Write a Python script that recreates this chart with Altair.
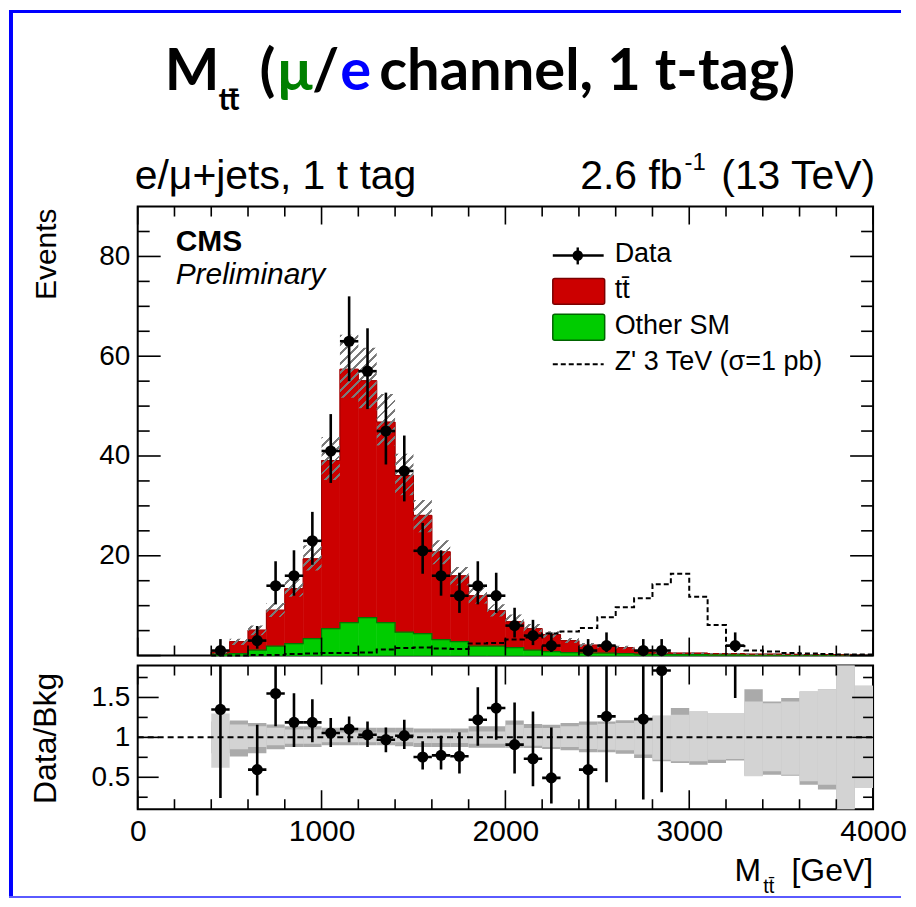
import altair as alt
import pandas as pd
import numpy as np

# ---------------- data ----------------
bin_lo = list(range(400, 4000, 100))          # 36 bins of 100 GeV

other_sm = [0.3, 0.4, 1.1, 1.9, 2.4, 3.4, 5.4, 6.6, 7.6, 6.6, 4.7, 4.4, 3.2, 2.8, 1.9, 1.9,
            1.6, 1.1, 0.8, 0.6, 0.5, 0.5, 0.4, 0.3, 0.25, 0.2, 0.2, 0.15, 0.15, 0.12, 0.12,
            0.1, 0.1, 0.1, 0.08, 0.08]
ttbar = [0.4, 2.4, 4.0, 7.2, 11.0, 16.0, 33.7, 50.8, 47.5, 40.2, 31.4, 23.7, 17.6, 13.2, 10.1,
         7.1, 5.2, 4.3, 3.4, 2.4, 1.6, 1.4, 1.2, 0.7, 0.35, 0.3, 0.3, 0.25, 0.25, 0.18, 0.18,
         0.15, 0.1, 0.1, 0.07, 0.07]
zprime = [0.0, 0.0, 0.1, 0.1, 0.3, 0.4, 0.5, 0.5, 0.6, 1.2, 1.5, 1.6, 1.4, 1.3, 2.4, 2.5,
          3.2, 3.6, 4.4, 4.8, 5.5, 7.7, 9.7, 11.5, 14.3, 16.4, 11.8, 6.1, 1.9, 1.0, 0.8,
          0.5, 0.4, 0.3, 0.2, 0.2]

# ratio-panel uncertainty bands (dark = outer, light = inner)
dark_up = [1.20, 1.21, 1.18, 1.16, 1.14, 1.14, 1.12, 1.12, 1.12, 1.12, 1.12, 1.11, 1.11, 1.11,
           1.14, 1.14, 1.21, 1.167, 1.158, 1.179, 1.20, 1.20, 1.213, 1.221, 1.271, 1.367, 1.325,
           1.304, 1.304, 1.604, 1.45, 1.492, 1.575, 1.604, 2.5, 1.646]
dark_dn = [0.80, 0.76, 0.80, 0.85, 0.88, 0.88, 0.90, 0.90, 0.90, 0.90, 0.89, 0.88, 0.88, 0.88,
           0.87, 0.87, 0.87, 0.867, 0.854, 0.838, 0.813, 0.813, 0.796, 0.742, 0.70, 0.679, 0.658,
           0.679, 0.71, 0.52, 0.533, 0.52, 0.408, 0.346, -0.5, 0.367]
light_up = [1.30, 1.16, 1.14, 1.12, 1.10, 1.10, 1.07, 1.06, 1.06, 1.06, 1.06, 1.06, 1.06, 1.06,
            1.075, 1.075, 1.158, 1.117, 1.117, 1.138, 1.158, 1.171, 1.179, 1.221, 1.271, 1.283,
            1.325, 1.304, 1.304, 1.45, 1.429, 1.45, 1.575, 1.604, 2.5, 1.646]
light_dn = [0.62, 0.85, 0.88, 0.90, 0.92, 0.92, 0.94, 0.94, 0.94, 0.94, 0.94, 0.93, 0.93, 0.93,
            0.921, 0.921, 0.909, 0.896, 0.879, 0.879, 0.854, 0.846, 0.838, 0.784, 0.721, 0.70,
            0.70, 0.721, 0.729, 0.513, 0.575, 0.533, 0.45, 0.408, -0.5, 0.367]

# data points
data_x = [450, 650, 750, 850, 950, 1050, 1150, 1250, 1350, 1450, 1550, 1650, 1750, 1850, 1950,
          2050, 2150, 2250, 2450, 2550, 2750, 2850, 3250]
data_n = [1, 3, 14, 16, 23, 41, 63, 57, 45, 37, 21, 16, 12, 14, 12, 6, 4, 2, 1, 2, 1, 1, 2]
err_lo = [0.83, 1.63, 3.74, 4.0, 4.8, 6.4, 8.0, 7.6, 6.7, 6.1, 4.6, 4.0, 3.45, 3.74, 3.45, 2.38,
          1.91, 1.29, 0.83, 1.29, 0.83, 0.83, 1.29]
err_hi = [2.3, 2.92, 4.9, 5.1, 5.8, 7.4, 9.0, 8.6, 7.7, 7.1, 5.6, 5.1, 4.6, 4.9, 4.6, 3.58, 3.16,
          2.64, 2.3, 2.64, 2.3, 2.3, 2.64]

ratio_val = [1.35, 0.596, 1.55, 1.188, 1.188, 1.054, 1.104, 1.033, 0.971, 1.021, 0.754, 0.775,
             0.763, 1.221, 1.367, 0.909, 0.733, 0.492, 0.596, 1.263, 1.229, 1.838, 6.0]
ratio_lo = [0.242, 0.271, 1.138, 0.879, 0.938, 0.879, 0.938, 0.879, 0.813, 0.854, 0.596, 0.596,
            0.546, 0.896, 0.971, 0.546, 0.388, 0.171, 0.0, 0.438, 0.221, 0.313, 1.492]
ratio_hi = [3.0, 1.158, 3.0, 1.554, 1.479, 1.242, 1.263, 1.2, 1.125, 1.221, 0.95, 1.021, 1.063,
            1.629, 1.95, 1.438, 1.325, 1.125, 3.0, 3.0, 3.0, 3.0, 20.0]

x_major = [0, 1000, 2000, 3000, 4000]
x_minor = [200, 400, 600, 800, 1200, 1400, 1600, 1800, 2200, 2400, 2600, 2800, 3200, 3400,
           3600, 3800]
y_major = [0, 20, 40, 60, 80]
y_minor = [5, 10, 15, 25, 30, 35, 45, 50, 55, 65, 70, 75, 85]
r_major = [0.5, 1.0, 1.5]
r_minor = [0.25, 0.75, 1.25, 1.75]

# ---------------- geometry / style ----------------
W, H, HR = 737, 450, 144
XD, YD, RD = [0, 4000], [0, 90], [0.1, 1.9]
FONT = "Liberation Sans"
RED, GREEN = "#cc0000", "#00cc00"

xsc = alt.Scale(domain=XD, nice=False, zero=False)
ysc = alt.Scale(domain=YD, nice=False, zero=False)
rsc = alt.Scale(domain=RD, nice=False, zero=False)

AX_MAIN_Y = alt.Axis(values=[20, 40, 60, 80], ticks=False, domain=False, grid=False,
                     labelFontSize=28, labelFont=FONT, labelColor="black",
                     labelPadding=8, title=None)
AX_R_X = alt.Axis(values=x_major, format="d", ticks=False, domain=False, grid=False,
                  labelFontSize=30, labelFont=FONT, labelColor="black", labelFlush=False,
                  labelPadding=7, title=None)
AX_R_Y = alt.Axis(values=r_major, format="~g", ticks=False, domain=False, grid=False,
                  labelFontSize=28, labelFont=FONT, labelColor="black", labelFlush=False,
                  labelPadding=8, title=None)

total = [g + t for g, t in zip(other_sm, ttbar)]
hist = pd.DataFrame({
    "lo": bin_lo, "hi": [b + 100 for b in bin_lo], "zero": [0.0] * len(bin_lo),
    "green": other_sm, "total": total,
    "du": dark_up, "dd": dark_dn, "lu": light_up, "ld": light_dn,
})

def step_df(vals):
    xs = [bin_lo[0]] + bin_lo + [XD[1]]
    ys = [0.0] + list(vals) + [vals[-1]]
    return pd.DataFrame({"x": xs, "y": ys, "i": list(range(len(xs)))})

hatch_up = [t * max(a, b) for t, a, b in zip(total, dark_up, light_up)]
hatch_dn = [t * max(0.0, min(a, b)) for t, a, b in zip(total, dark_dn, light_dn)]
hatch = pd.DataFrame({"x": bin_lo + [XD[1]], "u": hatch_up + [hatch_up[-1]],
                      "d": hatch_dn + [hatch_dn[-1]]})

# diagonal hatch as a striped gradient (objectBoundingBox units)
px_x = W / (XD[1] - XD[0])
px_y = H / (YD[1] - YD[0])
bw = (XD[1] - bin_lo[0]) * px_x
bh = (max(hatch_up) - min(hatch_dn)) * px_y
k = (bw + bh) / (bw ** 2 + bh ** 2)
n_per = int(((bw + bh) / np.sqrt(2)) / 6.5)
stops = []
for i in range(n_per):
    a, b, c = i / n_per, (i + 0.32) / n_per, (i + 1) / n_per
    stops += [alt.GradientStop(color="#7a7a7a", offset=a),
              alt.GradientStop(color="#7a7a7a", offset=b),
              alt.GradientStop(color="rgba(255,255,255,0)", offset=b),
              alt.GradientStop(color="rgba(255,255,255,0)", offset=c)]
hatch_fill = alt.LinearGradient(gradient="linear", stops=stops, x1=0, y1=0,
                                x2=k * bw, y2=k * bh)

pts = pd.DataFrame({"x": data_x, "n": data_n,
                    "lo": [n - e for n, e in zip(data_n, err_lo)],
                    "hi": [n + e for n, e in zip(data_n, err_hi)],
                    "xl": [x - 50 for x in data_x], "xh": [x + 50 for x in data_x],
                    "r": ratio_val, "rlo": ratio_lo, "rhi": ratio_hi})

dummy = pd.DataFrame({"a": [0]})

def X(f, ax=None):
    return alt.X(f, type="quantitative", scale=xsc, axis=ax)

def Y(f, s, ax=None):
    return alt.Y(f, type="quantitative", scale=s, axis=ax)

def txt(text, x, y, size, font=FONT, align="left", baseline="alphabetic", **kw):
    return alt.Chart(dummy).mark_text(text=text, fontSize=size, font=font, align=align,
                                      baseline=baseline, **kw).encode(
        x=alt.value(x), y=alt.value(y))

def prect(x1, x2, y1, y2, color, **kw):
    return alt.Chart(dummy).mark_rect(color=color, **kw).encode(
        x=alt.value(x1), x2=alt.value(x2), y=alt.value(y1), y2=alt.value(y2))

def ticks(s, height, ymaj, ymin, xl_maj, xl_min, yl_maj, yl_min, axx, axy):
    out = []
    for vals, ln in ((x_major, xl_maj), (x_minor, xl_min)):
        b = alt.Chart(pd.DataFrame({"v": vals})).mark_rule(color="black", strokeWidth=1.6)
        out.append(b.encode(x=X("v", axx), y=alt.value(height), y2=alt.value(height - ln)))
        out.append(b.encode(x=X("v", axx), y=alt.value(0), y2=alt.value(ln)))
    for vals, ln in ((ymaj, yl_maj), (ymin, yl_min)):
        b = alt.Chart(pd.DataFrame({"v": vals})).mark_rule(color="black", strokeWidth=1.6)
        out.append(b.encode(y=Y("v", s, axy), x=alt.value(0), x2=alt.value(ln)))
        out.append(b.encode(y=Y("v", s, axy), x=alt.value(W), x2=alt.value(W - ln)))
    return out

# ---------------- main panel ----------------
A = AX_MAIN_Y
hb = alt.Chart(hist)
green_r = hb.mark_rect(color=GREEN, stroke=GREEN, strokeWidth=0.6).encode(
    x=X("lo"), x2="hi", y=Y("green", ysc, A), y2="zero")
red_r = hb.mark_rect(color=RED, stroke=RED, strokeWidth=0.6).encode(
    x=X("lo"), x2="hi", y=Y("total", ysc, A), y2="green")

def outline(vals, color, **kw):
    return alt.Chart(step_df(vals)).mark_line(interpolate="step-after", color=color, **kw).encode(
        x=X("x"), y=Y("y", ysc, A), order="i:Q")

red_o = outline(total, "#990000", strokeWidth=1)
green_o = outline(other_sm, "#007a00", strokeWidth=1.2)
hatch_a = alt.Chart(hatch).mark_area(interpolate="step-after", fill=hatch_fill).encode(
    x=X("x"), y=Y("u", ysc, A), y2="d")
zp = outline(zprime, "black", strokeWidth=2, strokeDash=[5, 3])

pb = alt.Chart(pts)
ev = pb.mark_rule(color="black", strokeWidth=2.6).encode(x=X("x"), y=Y("lo", ysc, A), y2="hi")
eh = pb.mark_rule(color="black", strokeWidth=2.6).encode(x=X("xl"), x2="xh", y=Y("n", ysc, A))
pt = pb.mark_circle(color="black", opacity=1, size=125).encode(x=X("x"), y=Y("n", ysc, A))

legend = [
    alt.Chart(dummy).mark_rule(color="black", strokeWidth=2.4).encode(
        x=alt.value(416), x2=alt.value(467), y=alt.value(49)),
    alt.Chart(dummy).mark_rule(color="black", strokeWidth=2.4).encode(
        x=alt.value(441), y=alt.value(41), y2=alt.value(58)),
    alt.Chart(dummy).mark_circle(color="black", opacity=1, size=110).encode(
        x=alt.value(441), y=alt.value(49)),
    txt("Data", 478, 56, 27),
    prect(416, 468, 72, 98, RED, stroke="#7a0000", strokeWidth=1.5, cornerRadius=2),
    txt("tt\u0304", 478, 92, 27),
    prect(416, 468, 108, 134, GREEN, stroke="#006400", strokeWidth=1.5, cornerRadius=2),
    txt("Other SM", 478, 128, 27),
    alt.Chart(dummy).mark_rule(color="black", strokeWidth=2, strokeDash=[5, 3]).encode(
        x=alt.value(416), x2=alt.value(467), y=alt.value(158)),
    txt("Z' 3 TeV (\u03c3=1 pb)", 478, 164, 27),
]

TF = dict(font="Lato", fontWeight="bold")
texts = [
    txt("CMS", 38, 45, 30, fontWeight="bold"),
    txt("Preliminary", 38, 78, 30, fontStyle="italic"),
    txt("e/\u03bc+jets, 1 t tag", -3, -18, 41),
    txt("2.6 fb", 546, -18, 41, align="right"),
    txt("-1", 548, -37, 24),
    txt("(13 TeV)", 739, -18, 41, align="right"),
    txt("Events", -82, 2, 30, align="right", angle=270),
    # slide title
    txt("M", 27, -117, 58, **TF),
    txt("tt\u0304", 81, -97, 30, **TF),
    txt("(", 122, -117, 58, **TF),
    txt("\u03bc", 140, -117, 58, color="#008000", **TF),
    txt("/", 175, -117, 58, **TF),
    txt("e", 203, -117, 58, color="#0000ff", **TF),
    txt("channel, 1 t-tag)", 242, -117, 58, **TF),
]

border = [
    prect(-129, -125, -197, 693, "#0000ff"),
    prect(-129, 765, -197, -194, "#0000ff"),
    prect(-129, 765, 691, 693, "#5a5aff"),
]

main = alt.layer(
    green_r, red_r, green_o, red_o, hatch_a, zp,
    *ticks(ysc, H, y_major, y_minor, 18, 10, 23, 12, None, A),
    ev, eh, pt, *legend, *texts, *border,
).properties(width=W, height=H)

# ---------------- ratio panel ----------------
RX, RY = AX_R_X, AX_R_Y
dark_b = hb.mark_rect(color="#aaaaaa", clip=True).encode(
    x=X("lo", RX), x2="hi", y=Y("du", rsc, RY), y2="dd")
light_b = hb.mark_rect(color="#d3d3d3", clip=True).encode(
    x=X("lo", RX), x2="hi", y=Y("lu", rsc, RY), y2="ld")
one = alt.Chart(pd.DataFrame({"x": [XD[0]], "x2": [XD[1]], "y": [1.0]})).mark_rule(
    color="black", strokeWidth=2, strokeDash=[6, 4]).encode(
    x=X("x", RX), x2="x2", y=Y("y", rsc, RY))
rv = pb.mark_rule(color="black", strokeWidth=2.6, clip=True).encode(
    x=X("x", RX), y=Y("rlo", rsc, RY), y2="rhi")
rh = pb.mark_rule(color="black", strokeWidth=2.6, clip=True).encode(
    x=X("xl", RX), x2="xh", y=Y("r", rsc, RY))
rp = pb.mark_circle(color="black", opacity=1, size=125, clip=True).encode(
    x=X("x", RX), y=Y("r", rsc, RY))

rtexts = [
    txt("Data/Bkg", -82, 73, 32, align="center", angle=270),
    txt("M", 598, 216, 32),
    txt("tt\u0304", 627, 228, 20),
    txt("[GeV]", 737, 216, 32, align="right"),
]

ratio = alt.layer(
    dark_b, light_b, one,
    *ticks(rsc, HR, r_major, r_minor, 19, 10, 21, 10, RX, RY),
    rv, rh, rp, *rtexts,
).properties(width=W, height=HR)

chart = alt.vconcat(main, ratio, spacing=10, bounds="flush").properties(
    padding=0, background="white"
).configure_view(stroke="black", strokeWidth=2)

chart.save("out.html", embed_options={"renderer": "svg", "actions": False})
